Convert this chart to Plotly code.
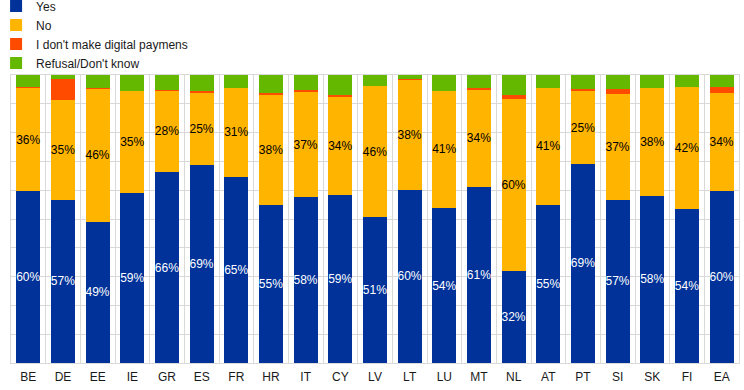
import plotly.graph_objects as go

countries = ["BE", "DE", "EE", "IE", "GR", "ES", "FR", "HR", "IT", "CY", "LV",
             "LT", "LU", "MT", "NL", "AT", "PT", "SI", "SK", "FI", "EA"]
yes = [59.6, 56.6, 49.0, 59.0, 66.3, 68.7, 64.6, 54.9, 57.5, 58.5, 50.6,
       60.1, 53.8, 61.2, 31.9, 54.9, 69.1, 56.6, 58.0, 53.5, 59.6]
no = [36.0, 34.7, 46.2, 35.4, 28.2, 25.3, 31.0, 38.2, 36.6, 34.0, 45.6,
      38.2, 40.7, 33.7, 59.8, 40.7, 25.3, 36.8, 37.6, 42.4, 34.2]
no_digital = [0.4, 7.3, 0.4, 0.0, 0.4, 0.4, 0.0, 0.7, 0.7, 0.4, 0.0,
              0.4, 0.0, 0.7, 1.4, 0.0, 0.7, 1.7, 0.0, 0.0, 2.0]
refusal = [4.0, 1.4, 4.4, 5.6, 5.1, 5.6, 4.4, 6.2, 5.2, 7.1, 3.8,
           1.3, 5.5, 4.4, 6.9, 4.4, 4.9, 4.9, 4.4, 4.1, 4.2]

series_names = ["Yes", "No", "I don't make digital paymens", "Refusal/Don't know"]
colors = ["#003299", "#FFB400", "#FF4B00", "#65B800"]
FONT = "Liberation Sans, Arial, sans-serif"

fig = go.Figure()
for name, vals, col in zip(series_names, [yes, no, no_digital, refusal], colors):
    if name in ("Yes", "No"):
        tcol = "white" if name == "Yes" else "black"
        kw = dict(texttemplate="%{y:.0f}%", textposition="inside",
                  insidetextanchor="middle", textangle=0,
                  insidetextfont=dict(color=tcol, size=12, family=FONT))
    else:
        kw = dict(textposition="none")
    fig.add_trace(go.Bar(x=countries, y=vals, name=name,
                         marker=dict(color=col, line=dict(width=0)), **kw))

fig.update_layout(
    barmode="stack",
    bargap=0.31,
    width=744, height=390,
    margin=dict(l=11, r=5, t=75, b=27, autoexpand=False),
    plot_bgcolor="white", paper_bgcolor="white",
    font=dict(family=FONT, size=12, color="#1a1a1a"),
    uniformtext=dict(minsize=12, mode="show"),
    showlegend=True,
    legend=dict(x=-0.0205, y=1.29, xanchor="left", yanchor="top", orientation="v",
                font=dict(size=12, family=FONT, color="#1a1a1a"),
                bgcolor="rgba(0,0,0,0)", traceorder="normal"),
)
fig.update_xaxes(type="category", showgrid=True, gridcolor="#d9d9d9", gridwidth=1,
                 tickson="boundaries", ticks="", showline=True, linecolor="#d9d9d9",
                 mirror=True, tickangle=0, ticklabelstandoff=3,
                 tickfont=dict(size=12, family=FONT, color="#1a1a1a"))
fig.update_yaxes(range=[0, 100], dtick=10, showgrid=True, gridcolor="#d9d9d9",
                 gridwidth=1, showticklabels=False, ticks="", zeroline=False,
                 showline=True, linecolor="#d9d9d9", mirror=True)

fig.write_html("out.html", config={"displayModeBar": False},
               post_script="document.body.style.margin='0px';document.body.style.padding='0px';")
